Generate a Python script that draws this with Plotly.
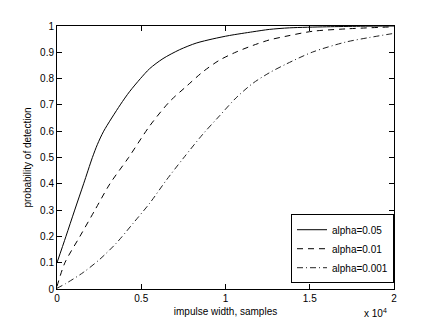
import plotly.graph_objects as go

# curves, x in samples
x_a05 = [0, 530, 1050, 1580, 2100, 2400, 2770, 3750, 4300, 4950, 5500, 6290, 7280, 8260,
         9250, 10240, 11620, 12600, 13800, 16000, 18000, 20000]
p_a05 = [0.10, 0.20, 0.30, 0.40, 0.50, 0.55, 0.60, 0.70, 0.75, 0.80, 0.838, 0.876, 0.91, 0.935,
         0.951, 0.964, 0.978, 0.987, 0.993, 0.997, 0.999, 1.0]

x_a01 = [0, 470, 1360, 2250, 3140, 4250, 5500, 6690, 7670, 8660, 9640, 10630, 11620, 12600, 13590, 15170, 17140, 20000]
p_a01 = [0.01, 0.10, 0.20, 0.30, 0.40, 0.50, 0.62, 0.713, 0.770, 0.826, 0.870, 0.901, 0.926, 0.947, 0.961, 0.980, 0.989, 0.997]

x_a001 = [0, 500, 1560, 2540, 3530, 4520, 5500, 6490, 7470, 8660, 9640, 10630, 11620, 12600, 13590, 15170, 17140, 18520, 20000]
p_a001 = [0.003, 0.02, 0.063, 0.113, 0.175, 0.25, 0.326, 0.414, 0.495, 0.589, 0.658, 0.727, 0.782, 0.822, 0.855, 0.901, 0.939, 0.956, 0.972]

x_ticks = [0, 5000, 10000, 15000, 20000]
x_tick_text = ["0", "0.5", "1", "1.5", "2"]

font = dict(family="Liberation Sans, Arial, sans-serif", size=10, color="black")

fig = go.Figure()
fig.add_trace(go.Scatter(x=x_a05, y=p_a05, mode="lines", name="alpha=0.05",
                         line=dict(color="black", width=1, shape="spline", smoothing=0.8)))
fig.add_trace(go.Scatter(x=x_a01, y=p_a01, mode="lines", name="alpha=0.01",
                         line=dict(color="black", width=1, dash="6px,5px", shape="spline", smoothing=0.8)))
fig.add_trace(go.Scatter(x=x_a001, y=p_a001, mode="lines", name="alpha=0.001",
                         line=dict(color="#222", width=1, dash="6px,3px,1px,3px", shape="spline", smoothing=0.8)))

axis_style = dict(showline=True, linecolor="black", linewidth=1, mirror="ticks",
                  ticks="inside", ticklen=5, tickcolor="black", showgrid=False,
                  zeroline=False, tickfont=font)

fig.update_xaxes(range=[0, 20000], tickvals=x_ticks, ticktext=x_tick_text,
                 title=dict(text="impulse width, samples", font=font, standoff=4), **axis_style)
fig.update_yaxes(range=[0, 1], dtick=0.1,
                 title=dict(text="probability of detection", font=font, standoff=6), **axis_style)

fig.add_annotation(text="x 10<sup>4</sup>", xref="paper", yref="paper", x=1.0, y=-0.06,
                   xanchor="right", yanchor="top", xshift=-5, showarrow=False, font=font)

# the page body adds an 8px margin, so the figure is drawn 8px smaller
fig.update_layout(
    width=428, height=319,
    margin=dict(l=49, r=42, t=16, b=37),
    paper_bgcolor="white", plot_bgcolor="white",
    font=font,
    showlegend=True,
    legend=dict(x=1, y=0.022, xanchor="right", yanchor="bottom",
                bordercolor="black", borderwidth=1, bgcolor="white",
                font=font, tracegroupgap=0, itemwidth=30),
)

fig.write_html("out.html")
